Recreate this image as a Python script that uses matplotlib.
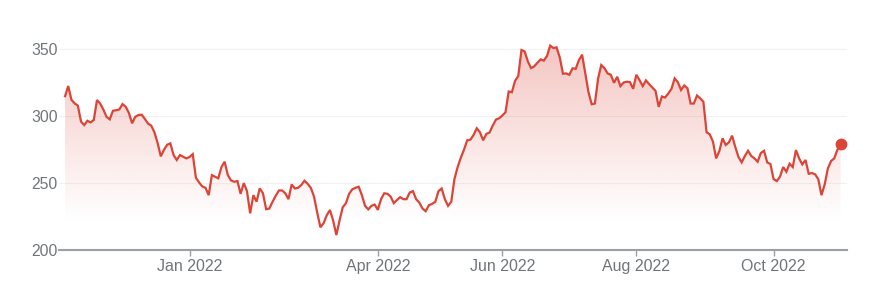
"""One-year closing price chart, Google Finance style.

Red price line with a soft gradient fill below it, a dot on the last close,
faint horizontal gridlines and month ticks on a trading-day axis.

Run:
  python plot.py
Output:
  out.png
"""

import numpy as np
import matplotlib.pyplot as plt
from matplotlib.colors import to_rgb

# Daily closes, one per trading day (Nov 2021 .. Oct 2022).
PRICES = [
    315.0, 322.6, 312.3, 309.6, 308.0, 296.0, 293.4, 296.6, 295.4, 297.2,
    312.1, 309.5, 305.0, 299.5, 297.7, 304.1, 304.5, 305.1, 309.1, 307.1,
    302.5, 294.7, 299.6, 300.9, 301.2, 298.0, 294.5, 293.0, 288.0, 280.0,
    270.0, 275.0, 278.7, 279.7, 271.0, 267.3, 271.0, 269.7, 268.5, 269.5,
    271.7, 254.0, 250.5, 247.5, 246.5, 241.0, 256.0, 254.8, 253.6, 262.0,
    266.0, 256.0, 252.0, 251.0, 251.6, 242.0, 250.0, 244.0, 227.4, 241.0,
    236.1, 246.1, 242.4, 230.5, 231.0, 236.0, 240.5, 244.5, 244.5, 242.4,
    238.0, 249.0, 246.0, 246.5, 248.5, 251.8, 249.5, 246.5, 240.0, 228.0,
    217.0, 220.0, 226.0, 229.9, 222.0, 211.2, 222.0, 232.0, 234.9, 242.0,
    245.4, 246.5, 247.3, 241.0, 233.0, 230.4, 233.0, 234.0, 230.0, 238.0,
    242.4, 242.0, 240.0, 235.0, 237.4, 239.5, 238.0, 238.0, 243.0, 244.0,
    238.0, 235.4, 231.0, 229.0, 233.5, 234.5, 236.0, 244.0, 246.0, 238.0,
    233.0, 236.0, 253.0, 262.0, 269.0, 275.0, 282.0, 282.5, 286.0, 291.0,
    288.0, 282.0, 286.8, 287.8, 293.0, 297.5, 298.5, 300.5, 303.0, 318.5,
    318.0, 326.5, 330.0, 349.5, 348.5, 341.0, 336.0, 337.3, 340.0, 342.5,
    341.6, 345.0, 352.8, 351.0, 351.5, 344.0, 331.8, 332.0, 331.0, 335.8,
    335.5, 342.0, 346.0, 332.0, 318.0, 309.0, 309.5, 328.0, 338.3, 336.0,
    332.0, 331.0, 325.0, 329.5, 322.5, 325.2, 325.8, 325.5, 320.5, 331.0,
    327.0, 322.5, 326.8, 324.0, 321.5, 319.0, 307.0, 314.8, 314.0, 317.0,
    320.5, 328.3, 325.5, 319.6, 323.0, 321.0, 309.5, 309.5, 315.5, 313.4,
    310.8, 288.0, 286.5, 281.0, 268.5, 274.0, 283.5, 278.5, 280.5, 285.5,
    277.0, 269.5, 265.5, 270.3, 274.2, 270.3, 268.5, 266.0, 272.5, 274.2,
    265.5, 264.3, 253.0, 251.5, 254.8, 262.0, 258.5, 264.5, 262.0, 274.7,
    268.5, 264.0, 267.3, 257.0, 257.5, 256.6, 253.0, 241.0, 249.0, 261.0,
    266.5, 268.5, 275.0, 279.0,
]

# First trading day of each labelled month, as an index into PRICES.
TICK_DAYS = [39, 98, 137, 179, 222]
TICK_LABELS = ["Jan 2022", "Apr 2022", "Jun 2022", "Aug 2022", "Oct 2022"]
Y_TICKS = [200, 250, 300, 350]

COL_LINE = "#db4437"
COL_TEXT = "#70757a"
COL_AXIS = "#9aa0a6"
COL_GRID = "#f1f1f1"
FONT = ["Liberation Sans", "DejaVu Sans"]


def main():
    fig = plt.figure(figsize=(8.92, 2.88), dpi=100)
    ax = fig.add_axes([0.0665, 0.1319, 0.8827, 0.7292])

    days = np.arange(len(PRICES))
    prices = np.array(PRICES)
    y_lo, y_hi = 200, 357

    # Gradient fill, clipped to the area under the line.
    poly = ax.fill_between(days, prices, y_lo, facecolor="none", edgecolor="none")
    vals = np.linspace(y_lo, y_hi, 256)
    alpha = np.clip(0.30 * (vals - 222) / 128, 0, None)
    grad = np.zeros((256, 1, 4))
    grad[:, 0, :3] = to_rgb(COL_LINE)
    grad[:, 0, 3] = alpha
    img = ax.imshow(grad, extent=[days[0], days[-1], y_lo, y_hi],
                    origin="lower", aspect="auto", zorder=1, interpolation="bilinear")
    img.set_clip_path(poly.get_paths()[0], transform=ax.transData)

    ax.plot(days, prices, color=COL_LINE, lw=1.6, zorder=3, solid_joinstyle="miter")
    ax.plot(days[-1:], prices[-1:], "o", color=COL_LINE, ms=7.5, zorder=4, clip_on=False)

    ax.set_xlim(-1.8, len(PRICES) - 1 + 1.9)
    ax.set_ylim(y_lo, y_hi)

    ax.set_yticks(Y_TICKS)
    ax.set_yticklabels([str(v) for v in Y_TICKS])
    ax.set_xticks(TICK_DAYS)
    ax.set_xticklabels(TICK_LABELS)

    for s in ("top", "right", "left"):
        ax.spines[s].set_visible(False)
    ax.spines["bottom"].set_color(COL_AXIS)
    ax.spines["bottom"].set_linewidth(1.5)

    ax.grid(axis="y", color=COL_GRID, lw=0.8, zorder=0)
    ax.set_axisbelow(True)
    ax.tick_params(axis="y", length=0, pad=1, labelsize=11.3, labelcolor=COL_TEXT)
    ax.tick_params(axis="x", length=4.5, width=1.0, color=COL_AXIS, pad=2,
                   labelsize=11.5, labelcolor=COL_TEXT)
    for lab in ax.get_xticklabels() + ax.get_yticklabels():
        lab.set_family(FONT)

    fig.savefig("out.png", dpi=100)
    plt.close(fig)


if __name__ == "__main__":
    main()
